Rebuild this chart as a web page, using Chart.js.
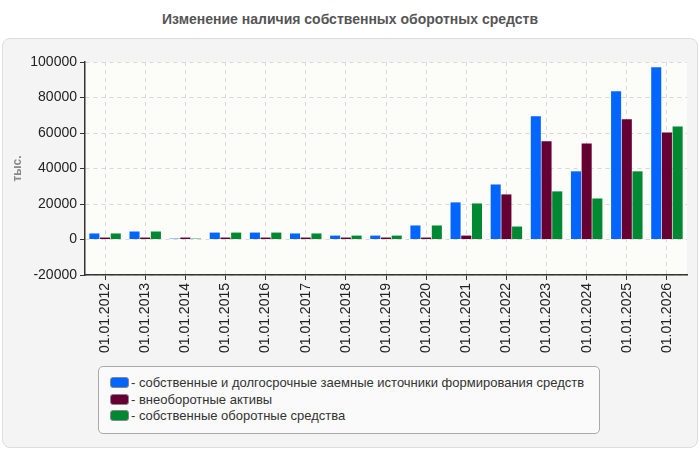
<!DOCTYPE html>
<html>
<head>
<meta charset="utf-8">
<script src="https://cdn.jsdelivr.net/npm/chart.js@4"></script>
<style>
    body { margin: 0; background: #fff; font-family: "Liberation Sans", Arial, sans-serif; }
    #title { position: absolute; left: 0; top: 11px; width: 700px; text-align: center; font-weight: bold; font-size: 14px; color: #555; }
    #card { position: absolute; left: 2px; top: 38px; width: 694px; height: 408px; background: #f4f4f4; border: 1px solid #ddd; border-radius: 8px; }
    #wrap { position: absolute; left: 0; top: 40px; width: 700px; height: 320px; }
    #legend { position: absolute; left: 98px; top: 366px; width: 500px; height: 66px; background: #fafafa; border: 1px solid #aaa; border-radius: 5px; font-size: 13px; color: #333; }
    .item { position: absolute; left: 11px; height: 16px; line-height: 16px; white-space: nowrap; }
    .sw { display: inline-block; width: 17px; height: 9px; border-radius: 3px; vertical-align: -1px; margin-right: 2px; border: 1px solid #888; }
</style>
</head>
<body>
<div id="title">Изменение наличия собственных оборотных средств</div>
<div id="card"></div>
<div id="wrap"><canvas id="chart" width="700" height="320"></canvas></div>
<div id="legend"></div>
<script>
const categories = ['01.01.2012', '01.01.2013', '01.01.2014', '01.01.2015', '01.01.2016', '01.01.2017', '01.01.2018', '01.01.2019',
    '01.01.2020', '01.01.2021', '01.01.2022', '01.01.2023', '01.01.2024', '01.01.2025', '01.01.2026'];
const sourcesValues = [3400, 4500, 500, 3900, 3900, 3400, 2200, 2200, 7900, 20900, 31000, 69400, 38400, 83500, 97000];
const nonCurrentValues = [1100, 1100, 1100, 1100, 1100, 1100, 1100, 1100, 1100, 2200, 25400, 55300, 54100, 67700, 60300];
const workingCapitalValues = [3400, 4500, 500, 3900, 3900, 3400, 2200, 2200, 7900, 20300, 7300, 27100, 23100, 38400, 63700];
const seriesLabels = ['собственные и долгосрочные заемные источники формирования средств', 'внеоборотные активы', 'собственные оборотные средства'];
const seriesColors = ['#0066ff', '#660033', '#008833'];
const yTicks = [-20000, 0, 20000, 40000, 60000, 80000, 100000];

// background of the plot area: light tint with thin diagonal hatching
const plotBg = {
    id: 'plotBg',
    beforeDraw(chart) {
        const { ctx, chartArea: a } = chart;
        ctx.save();
        ctx.fillStyle = '#fdfdf9';
        ctx.fillRect(a.left, a.top, a.right - a.left, a.bottom - a.top);
        ctx.beginPath();
        ctx.rect(a.left, a.top, a.right - a.left, a.bottom - a.top);
        ctx.clip();
        ctx.strokeStyle = 'rgba(0,0,0,0.018)';
        ctx.lineWidth = 1;
        const h = a.bottom - a.top;
        for (let x = a.left - h; x < a.right; x += 4) {
            ctx.beginPath();
            ctx.moveTo(x, a.bottom);
            ctx.lineTo(x + h, a.top);
            ctx.stroke();
        }
        ctx.restore();
    }
};

new Chart(document.getElementById('chart'), {
    type: 'bar',
    data: {
        labels: categories,
        datasets: [sourcesValues, nonCurrentValues, workingCapitalValues].map((d, i) => ({
            label: seriesLabels[i],
            data: d,
            backgroundColor: seriesColors[i],
            barPercentage: 0.94,
            categoryPercentage: 0.8
        }))
    },
    options: {
        responsive: false,
        animation: false,
        layout: { padding: { top: 22, right: 13, left: 0, bottom: 0 } },
        plugins: { legend: { display: false }, tooltip: { enabled: false } },
        scales: {
            x: {
                afterFit(s) { s.height = 85; },
                grid: { offset: false, color: '#d8d8d8', tickColor: '#333', tickLength: 5, tickBorderDash: [] },
                border: { color: '#333', width: 1.5, dash: [4, 4] },
                ticks: { maxRotation: 90, minRotation: 90, color: '#222', font: { size: 14, family: 'Liberation Sans' }, padding: 3 }
            },
            y: {
                min: -20000,
                max: 100000,
                afterFit(s) { s.width = 85; },
                afterBuildTicks(s) { s.ticks = yTicks.map(v => ({ value: v })); },
                grid: { color: '#d8d8d8', tickColor: '#333', tickLength: 5, tickBorderDash: [] },
                border: { color: '#333', width: 1.5, dash: [4, 4] },
                ticks: { color: '#222', font: { size: 14, family: 'Liberation Sans' }, padding: 3, callback: v => String(v) },
                title: { display: true, text: 'тыс.', color: '#888', font: { size: 12, weight: 'bold', family: 'Liberation Sans' }, padding: { top: 10, bottom: 0 } }
            }
        }
    },
    plugins: [plotBg]
});

const legend = document.getElementById('legend');
seriesLabels.forEach((label, i) => {
    const el = document.createElement('div');
    el.className = 'item';
    el.style.top = (8 + i * 16.5) + 'px';
    el.innerHTML = '<span class="sw" style="background:' + seriesColors[i] + '"></span>- ' + label;
    legend.appendChild(el);
});
</script>
</body>
</html>
